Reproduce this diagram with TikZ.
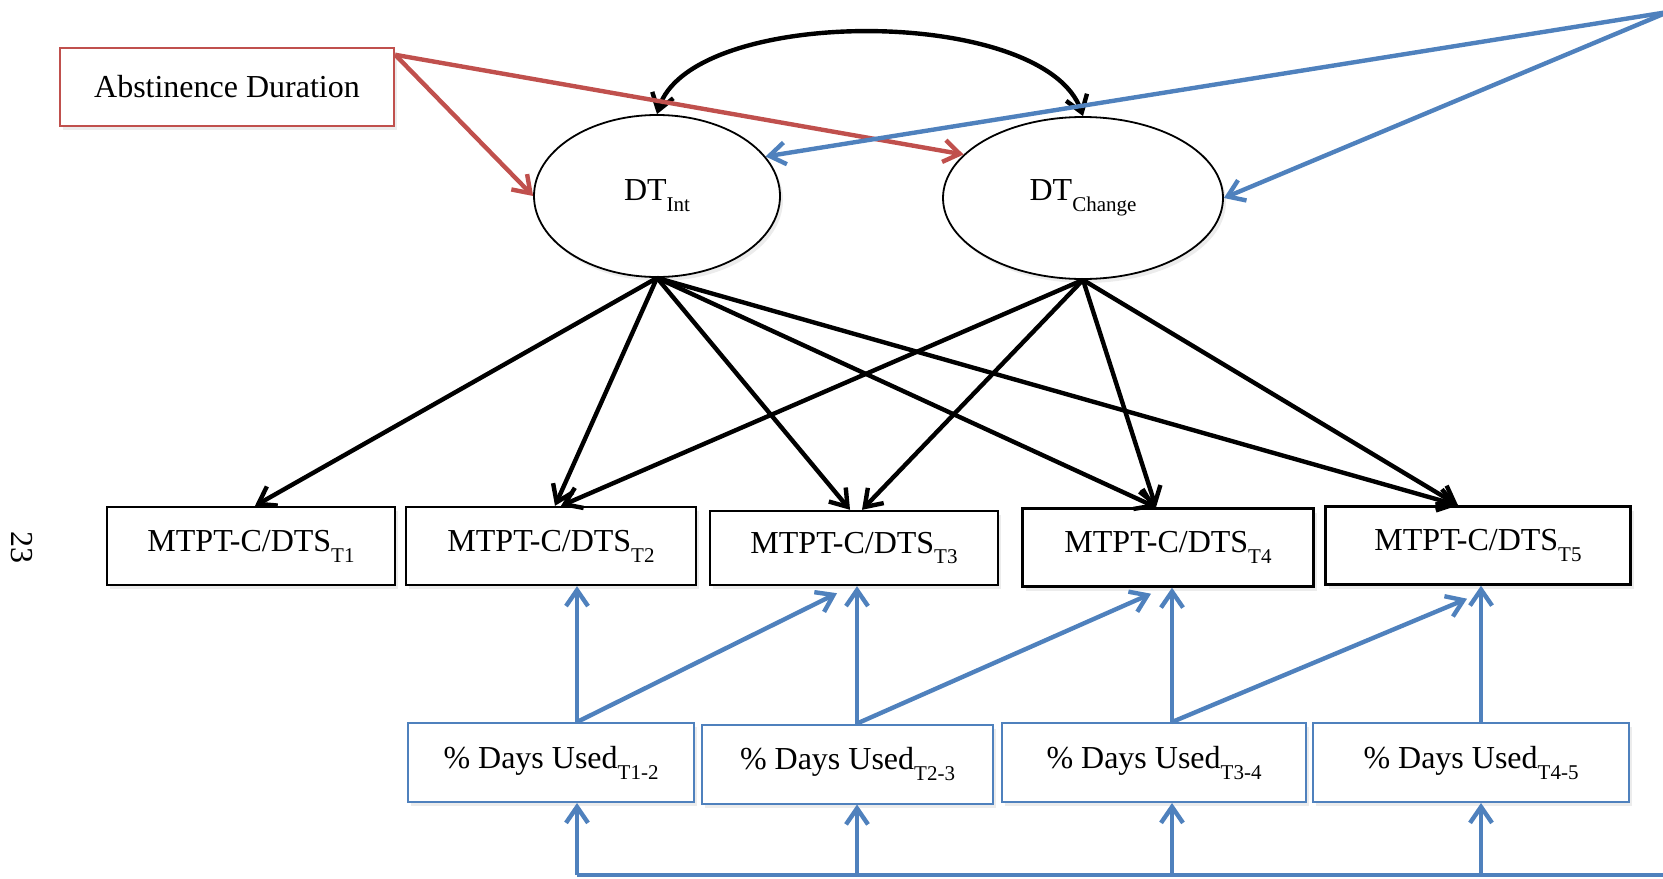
\documentclass[tikz,border=0pt]{standalone}
\usepackage{fontspec}
\setmainfont{Liberation Serif}
\usetikzlibrary{positioning,arrows.meta,shapes.geometric,calc,shadows}
\definecolor{abred}{RGB}{192,80,77}
\definecolor{pdblue}{RGB}{79,129,189}
\newcommand{\lowsub}[1]{\raisebox{-5.5pt}{\fontsize{10.5}{12}\selectfont #1}}

\begin{document}
\begin{tikzpicture}[x=0.5pt, y=-0.5pt,
    every node/.style={font=\fontsize{16}{19}\selectfont},
    block/.style={rectangle, draw, line width=1.2pt, fill=white, inner sep=0pt, drop shadow={shadow xshift=1.5pt, shadow yshift=-2pt, opacity=0.15}},
    mtpt/.style={block, minimum height=39pt},
    days/.style={block, draw=pdblue, line width=1pt, minimum height=39.5pt},
    latent/.style={ellipse, draw, line width=0.9pt, fill=white, inner sep=0pt, minimum height=81pt, drop shadow={shadow xshift=1.5pt, shadow yshift=-2pt, opacity=0.15}},
    arrow/.style={line width=2.2pt, -{Straight Barb[length=8pt,width=11pt]}},
    redarrow/.style={arrow, draw=abred},
    bluearrow/.style={arrow, draw=pdblue}]
    \useasboundingbox (0,0) rectangle (1663,878);

    \node[block, draw=abred, minimum width=167pt, minimum height=39pt] (abst) at (227,87) {Abstinence Duration};
    \node[latent, minimum width=123pt] (dtint) at (657,196) {DT\lowsub{Int}};
    \node[latent, minimum width=140pt] (dtchg) at (1083,198) {DT\lowsub{Change}};

    \node[mtpt, minimum width=144pt] (t1) at (251,546) {MTPT-C/DTS\lowsub{T1}};
    \node[mtpt, minimum width=145pt] (t2) at (551,546) {MTPT-C/DTS\lowsub{T2}};
    \node[mtpt, minimum width=144pt, minimum height=37pt] (t3) at (854,548) {MTPT-C/DTS\lowsub{T3}};
    \node[mtpt, minimum width=145.5pt] (t4) at (1168,547.5) {MTPT-C/DTS\lowsub{T4}};
    \node[mtpt, minimum width=152.5pt] (t5) at (1478,545.5) {MTPT-C/DTS\lowsub{T5}};

    \node[days, minimum width=143pt] (d12) at (551,762.5) {\% Days Used\lowsub{T1-2}};
    \node[days, minimum width=145.5pt] (d23) at (847.5,764) {\% Days Used\lowsub{T2-3}};
    \node[days, minimum width=152pt] (d34) at (1154,762.5) {\% Days Used\lowsub{T3-4}};
    \node[days, minimum width=158pt] (d45) at (1471,762.5) {\% Days Used\lowsub{T4-5}};

    \node[rotate=-90] (page) at (22,547) {23};

    \coordinate (ext) at (1668,12);
    \coordinate (c2) at (577,875);
    \coordinate (c3) at (857,875);
    \coordinate (c4) at (1172,875);
    \coordinate (c5) at (1481,875);
    \coordinate (busend) at (1680,875);

    % Covariance
    \draw[line width=2.2pt, {Straight Barb[length=8pt,width=11pt]}-{Straight Barb[length=8pt,width=11pt]}] (dtint.north) .. controls (690,5) and (1045,5) .. (dtchg.north);

    % Predictors
    \draw[redarrow] ([yshift=-4pt]abst.north east) -- (dtint.west);
    \draw[redarrow] ([yshift=-4pt]abst.north east) -- (dtchg.160);
    \draw[bluearrow] (ext) -- (dtint.20);
    \draw[bluearrow] (ext) -- (dtchg.east);

    % Loadings
    \foreach \t/\s in {t1/2,t2/2,t3/-2,t4/-6,t5/-10}
        \draw[arrow] (dtint.south) -- ([xshift=\s pt]\t.north);
    \foreach \t/\s in {t2/5,t3/4,t4/-6,t5/-10}
        \draw[arrow] (dtchg.south) -- ([xshift=\s pt]\t.north);

    % Time-varying covariates
    \draw[line width=2.2pt, draw=pdblue] (c2) -- (busend);
    \foreach \d/\c in {d12/c2,d23/c3,d34/c4,d45/c5}
        \draw[bluearrow] (\c) -- (\d.south -| \c);
    \foreach \d/\t/\c in {d12/t2/c2,d23/t3/c3,d34/t4/c4,d45/t5/c5}
        \draw[bluearrow] (\d.north -| \c) -- (\t.south -| \c);
    \draw[bluearrow] (d12.north -| c2) -- ($(t3.south -| c3)+(-20,7)$);
    \draw[bluearrow] (d23.north -| c3) -- ($(t4.south -| c4)+(-21,6)$);
    \draw[bluearrow] (d34.north -| c4) -- ($(t5.south -| c5)+(-14,13)$);

\end{tikzpicture}
\end{document}
